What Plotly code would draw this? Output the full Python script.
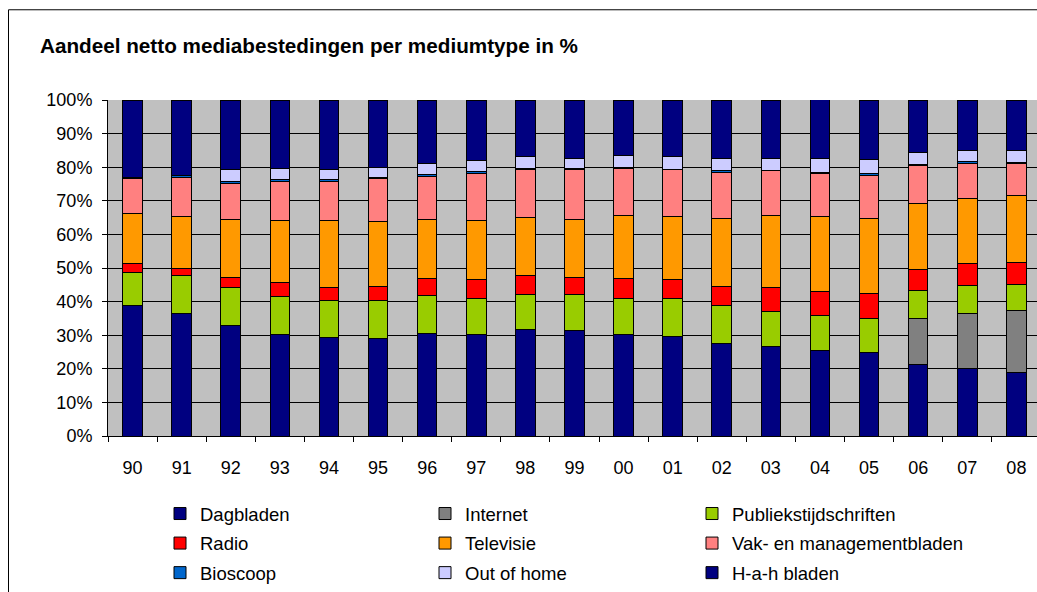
import plotly.graph_objects as go

years = ["90", "91", "92", "93", "94", "95", "96", "97", "98", "99",
         "00", "01", "02", "03", "04", "05", "06", "07", "08"]

dagbladen = [38.8, 36.4, 32.9, 30.2, 29.4, 29.1, 30.5, 30.1, 31.7, 31.4,
             30.2, 29.7, 27.5, 26.7, 25.4, 24.8, 21.2, 20.0, 18.8]
internet = [0, 0, 0, 0, 0, 0, 0, 0, 0, 0,
            0, 0, 0, 0, 0, 0, 13.7, 16.6, 18.6]
publiek = [10.0, 11.3, 11.3, 11.2, 10.9, 11.2, 11.2, 10.9, 10.5, 10.8,
           10.8, 11.3, 11.3, 10.3, 10.5, 10.3, 8.5, 8.3, 7.8]
radio = [2.5, 2.3, 3.1, 4.4, 3.9, 4.3, 5.2, 5.5, 5.5, 5.1,
         5.9, 5.5, 5.8, 7.2, 7.2, 7.3, 6.1, 6.4, 6.4]
televisie = [15.0, 15.2, 17.0, 18.3, 19.9, 19.1, 17.5, 17.6, 17.2, 17.1,
             18.6, 18.7, 20.2, 21.4, 22.1, 22.4, 19.6, 19.4, 19.9]
vak = [10.2, 11.8, 10.9, 11.6, 11.6, 12.9, 12.8, 14.0, 14.3, 14.8,
       14.1, 14.0, 13.6, 13.3, 12.9, 12.8, 11.3, 10.5, 9.6]
bioscoop = [0.5, 0.6, 0.6, 0.6, 0.6, 0.3, 0.5, 0.5, 0.5, 0.3,
            0.4, 0.2, 0.5, 0.2, 0.2, 0.6, 0.5, 0.5, 0.2]
out_of_home = [0, 0, 3.4, 3.3, 3.0, 3.1, 3.4, 3.3, 3.4, 3.2,
               3.4, 3.7, 3.8, 3.6, 4.3, 4.2, 3.6, 3.3, 3.6]
hah_bladen = [23.0, 22.4, 20.8, 20.4, 20.7, 20.0, 18.9, 18.1, 16.9, 17.3,
              16.6, 16.9, 17.3, 17.3, 17.5, 17.6, 15.5, 15.0, 15.1]

# (name, values, colour, legend column)
series = [
    ("Dagbladen", dagbladen, "#000080", "legend"),
    ("Internet", internet, "#808080", "legend2"),
    ("Publiekstijdschriften", publiek, "#99CC00", "legend3"),
    ("Radio", radio, "#FF0000", "legend"),
    ("Televisie", televisie, "#FF9900", "legend2"),
    ("Vak- en managementbladen", vak, "#FF8080", "legend3"),
    ("Bioscoop", bioscoop, "#0066CC", "legend"),
    ("Out of home", out_of_home, "#CCCCFF", "legend2"),
    ("H-a-h bladen", hah_bladen, "#000080", "legend3"),
]

FONT = "Liberation Sans, Arial, sans-serif"

fig = go.Figure()
for name, vals, color, lg in series:
    fig.add_trace(go.Bar(
        x=years, y=vals, name=name, legend=lg, legendgroup=name,
        marker=dict(color=color, line=dict(color="#000000", width=1)),
        width=0.4,
    ))

W, H = 1037, 592
ML, MT, MB = 108, 100, 155
plot_w = W - ML
plot_h = H - MT - MB


def px_x(p):
    return (p - ML) / plot_w


def px_y(p):
    return (H - MB - p) / plot_h


legend_common = dict(
    orientation="v", xanchor="left", yanchor="middle",
    traceorder="grouped", tracegroupgap=2.5,
    font=dict(family=FONT, size=18.5, color="#000000"),
    bgcolor="rgba(0,0,0,0)", itemclick=False, itemdoubleclick=False,
    y=px_y(544.5),
)

fig.update_layout(
    width=W, height=H,
    margin=dict(l=ML, r=0, t=MT, b=MB),
    barmode="stack",
    paper_bgcolor="#FFFFFF",
    plot_bgcolor="#C0C0C0",
    font=dict(family=FONT, size=18, color="#000000"),
    title=dict(
        text="<b>Aandeel netto mediabestedingen per mediumtype in %</b>",
        x=40 / W, xanchor="left", xref="container",
        y=1 - 46 / H, yanchor="middle", yref="container",
        font=dict(family=FONT, size=20.7, color="#000000"),
    ),
    xaxis=dict(
        range=[-0.5, 18.42], showline=True, linecolor="#000000", linewidth=1,
        ticks="outside", tickson="boundaries", ticklen=5, tickcolor="#000000",
        showgrid=False, ticklabelstandoff=15,
        tickfont=dict(family=FONT, size=18, color="#000000"),
    ),
    yaxis=dict(
        range=[0, 100], dtick=10, ticksuffix="%",
        showline=True, linecolor="#000000", linewidth=1,
        ticks="outside", ticklen=5, tickcolor="#000000",
        showgrid=True, gridcolor="#000000", gridwidth=1,
        zeroline=False, ticklabelstandoff=6,
        tickfont=dict(family=FONT, size=18, color="#000000"),
    ),
    legend=dict(x=px_x(160), **legend_common),
    legend2=dict(x=px_x(425), **legend_common),
    legend3=dict(x=px_x(692), **legend_common),
    shapes=[dict(
        type="rect", xref="paper", yref="paper",
        x0=px_x(8.5), x1=px_x(1045), y0=px_y(620), y1=px_y(9.5),
        line=dict(color="#000000", width=1), fillcolor="rgba(0,0,0,0)",
        layer="below",
    )],
)

fig.write_html(
    "out.html",
    config={"displayModeBar": False},
    post_script="document.body.style.margin='0';document.body.style.padding='0';",
)
